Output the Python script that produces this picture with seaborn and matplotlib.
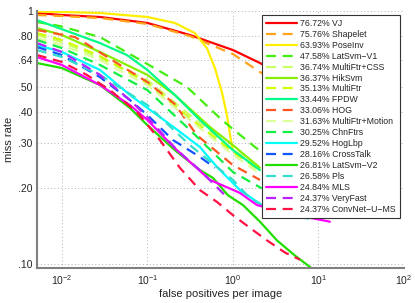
import numpy as np
import pandas as pd
import matplotlib
matplotlib.use('Agg')
import matplotlib.pyplot as plt
import seaborn as sns

# method names, log-average miss rates and colours (legend order)
names = ['VJ', 'Shapelet', 'PoseInv', 'LatSvm\u2212V1', 'MultiFtr+CSS', 'HikSvm',
         'MultiFtr', 'FPDW', 'HOG', 'MultiFtr+Motion', 'ChnFtrs', 'HogLbp',
         'CrossTalk', 'LatSvm\u2212V2', 'Pls', 'MLS', 'VeryFast', 'ConvNet\u2212U\u2212MS']
lamr = [76.72, 75.76, 63.93, 47.58, 36.74, 36.37, 35.13, 33.44, 33.06, 31.63,
        30.25, 29.52, 28.16, 26.81, 26.58, 24.84, 24.37, 24.37]
colors = ['#ff0000', '#ffa31a', '#ffee00', '#44ee11', '#ccff66', '#88ee00',
          '#ccff00', '#00ff88', '#ff5522', '#ddff99', '#11ee44', '#00ffff',
          '#1155ff', '#22dd00', '#33ddcc', '#ff00ff', '#bb22ff', '#ff1144']
dashed = [False, True, False, True, True, False, True, False, True, True,
          True, False, True, False, True, False, True, True]

# curves: false positives per image / miss rate
vj_fppi = [.0051, .01, .0279, .1, .314, 1.0, 2.07, 6.08]
vj_mr = [.982, .964, .947, .897, .804, .701, .623, .510]
shapelet_fppi = [.0051, .01, .0279, .1, .314, 1.0, 2.07, 6.08]
shapelet_mr = [.964, .955, .938, .889, .796, .676, .574, .457]
poseinv_fppi = [.0051, .01, .0279, .1, .209, .359, .496, .616, .743, .851, .947, 1.0]
poseinv_mr = [.995, .991, .982, .947, .897, .818, .714, .595, .479, .388, .309, .282]
latsvm1_fppi = [.0051, .0095, .0279, .1, .29, .743, 1.81, 3.54]
latsvm1_mr = [.905, .872, .789, .617, .501, .371, .29, .246]
mfcss_fppi = [.0051, .01, .0279, .1, .314, 1.0, 2.07]
mfcss_mr = [.804, .754, .652, .534, .388, .282, .242]
hiksvm_fppi = [.0051, .01, .0279, .1, .209, .538, 1.0, 2.07]
hiksvm_mr = [.857, .804, .689, .559, .466, .348, .295, .240]
multiftr_fppi = [.0051, .01, .0279, .1, .314, 1.0, 2.18]
multiftr_mr = [.818, .768, .664, .519, .377, .277, .231]
fpdw_fppi = [.0051, .0114, .0279, .0576, .1, .209, .411, 1.0, 2.07]
fpdw_mr = [.921, .834, .747, .670, .585, .466, .371, .282, .235]
hog_fppi = [.0051, .0142, .0196, .0477, .1, .209, .379, 1.0, 2.07]
hog_mr = [.841, .789, .740, .612, .524, .429, .323, .246, .215]
mfmotion_fppi = [.0051, .01, .0279, .1, .314, 1.0, 2.18]
mfmotion_mr = [.782, .734, .640, .510, .371, .270, .225]
chnftrs_fppi = [.0051, .01, .0279, .1, .314, 1.0, 2.18]
chnftrs_mr = [.768, .714, .612, .487, .339, .231, .199]
hoglbp_fppi = [.0051, .01, .0279, .0624, .1, .209, .411, .650, 1.207, 2.18]
hoglbp_mr = [.734, .689, .585, .466, .414, .345, .290, .242, .196, .171]
crosstalk_fppi = [.0051, .01, .0279, .0624, .1, .199, .411, .616]
crosstalk_mr = [.721, .670, .548, .445, .388, .309, .265, .240]
latsvm2_fppi = [.0051, .01, .0279, .0624, .1, .209, .411, .584, .874, 1.31, 2.07, 3.27, 5.31, 8.39]
latsvm2_mr = [.623, .595, .510, .414, .354, .282, .235, .219, .187, .171, .147, .124, .108, .096]
pls_fppi = [.0051, .01, .0279, .1, .314, 1.0, 1.58, 3.27, 7.96]
pls_mr = [.701, .658, .559, .425, .295, .215, .182, .158, .151]
mls_fppi = [.0051, .01, .0279, .0624, .1, .209, .538, 1.207, 1.91, 6.08, 13.6]
mls_mr = [.658, .612, .510, .425, .371, .287, .215, .191, .171, .155, .147]
veryfast_fppi = [.0051, .01, .0279, .0624, .1, .222, .411, .806]
veryfast_mr = [.747, .689, .559, .445, .381, .282, .235, .187]
convnet_fppi = [.0051, .01, .0196, .0364, .0755, .14, .24, .411, .650, 1.0, 1.58, 2.50, 4.06, 6.08]
convnet_mr = [.670, .629, .559, .487, .399, .309, .240, .196, .176, .156, .139, .124, .111, .104]

curves = [(vj_fppi, vj_mr), (shapelet_fppi, shapelet_mr), (poseinv_fppi, poseinv_mr),
          (latsvm1_fppi, latsvm1_mr), (mfcss_fppi, mfcss_mr), (hiksvm_fppi, hiksvm_mr),
          (multiftr_fppi, multiftr_mr), (fpdw_fppi, fpdw_mr), (hog_fppi, hog_mr),
          (mfmotion_fppi, mfmotion_mr), (chnftrs_fppi, chnftrs_mr), (hoglbp_fppi, hoglbp_mr),
          (crosstalk_fppi, crosstalk_mr), (latsvm2_fppi, latsvm2_mr), (pls_fppi, pls_mr),
          (mls_fppi, mls_mr), (veryfast_fppi, veryfast_mr), (convnet_fppi, convnet_mr)]

yticks = [.10, .20, .30, .40, .50, .64, .80, 1]
ytick_labels = ['.10', '.20', '.30', '.40', '.50', '.64', '.80', '1']
xticks = [1e-2, 1e-1, 1e0, 1e1, 1e2]
xtick_labels = ['$10^{-2}$', '$10^{-1}$', '$10^{0}$', '$10^{1}$', '$10^{2}$']

sns.set_style('white')
plt.rcParams['font.family'] = ['Liberation Sans', 'DejaVu Sans']
plt.rcParams['mathtext.fontset'] = 'custom'
plt.rcParams['mathtext.rm'] = 'Liberation Sans'
plt.rcParams['mathtext.it'] = 'Liberation Sans'
plt.rcParams['mathtext.default'] = 'regular'

fig = plt.figure(figsize=(4.15, 3.03), dpi=100)
ax = fig.add_axes([37 / 415, 1 - 268 / 303, 367 / 415, 257 / 303])

for i, (fx, fy) in enumerate(curves):
    df = pd.DataFrame({'fppi': fx, 'mr': fy})
    label = '%.2f%% %s' % (lamr[i], names[i])
    _ = sns.lineplot(x='fppi', y='mr', data=df, ax=ax, color=colors[i], lw=1.6,
                     estimator=None, sort=False, label=label,
                     dashes=False)
    if dashed[i]:
        ax.lines[-1].set_dashes((4.5, 3))

ax.set_xscale('log')
ax.set_yscale('log')
ax.set_xlim(10 ** -2.29, 100)
ax.set_ylim(10 ** (-1 - 4 / 253), 1.0)

ax.set_xticks(xticks)
ax.set_xticklabels(xtick_labels)
ax.set_yticks(yticks)
ax.set_yticklabels(ytick_labels)
ax.minorticks_off()
ax.tick_params(direction='in', length=3, width=0.8, color='#808080',
               labelsize=7.5, pad=3)
ax.tick_params(axis='x', pad=4)

ax.grid(True, which='major', linestyle=(0, (1, 2.5)), color='#b0b0b0', lw=0.7)
for s in ['top', 'right']:
    ax.spines[s].set_visible(False)
for s in ['left', 'bottom']:
    ax.spines[s].set_color('#808080')
    ax.spines[s].set_linewidth(1.5)

ax.set_xlabel('false positives per image', fontsize=8, labelpad=1)
ax.set_ylabel('miss rate', fontsize=8, labelpad=3)

leg = ax.legend(loc='upper right', bbox_to_anchor=((400 - 37) / 367, (268 - 15) / 257),
                borderaxespad=0, fontsize=6.3, labelspacing=0.22, handlelength=3.6,
                handletextpad=0.35, borderpad=0.45, fancybox=False, framealpha=1,
                edgecolor='#333333')
leg.get_frame().set_linewidth(0.8)
leg.set_zorder(10)

fig.savefig('out.png', dpi=100)
